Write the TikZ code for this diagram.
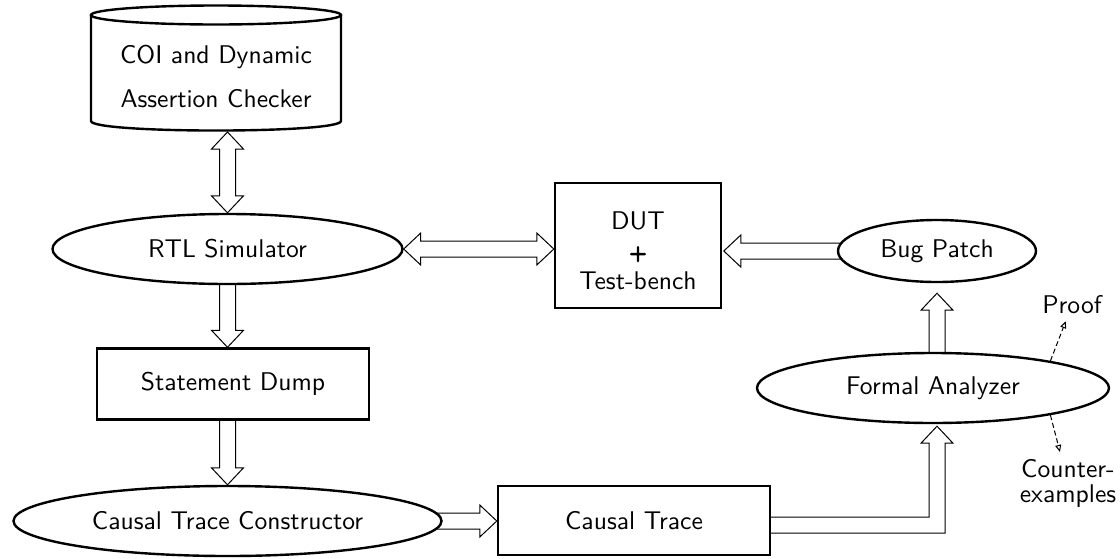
\documentclass[tikz,border=0pt]{standalone}
\usetikzlibrary{calc,shapes.geometric,arrows.meta,backgrounds}
\DeclareFontFamily{TU}{lmssten}{}
\DeclareFontShape{TU}{lmssten}{m}{n}{<-> "[lmsans10-regular]:+tlig;"}{}
\DeclareFontShape{TU}{lmssten}{bx}{n}{<-> "[lmsans10-bold]:+tlig;embolden=3"}{}
\DeclareFontShape{TU}{lmssten}{b}{n}{<-> ssub * lmssten/bx/n}{}
\renewcommand\sfdefault{lmssten}
\tikzset{
  every node/.style={font=\fontsize{12.8}{15}\selectfont\sffamily},
  shapebox/.style={draw, line width=1.2pt, fill=white, rectangle, inner sep=0pt},
  shapeell/.style={draw, line width=1.2pt, fill=white, ellipse, inner sep=0pt},
  fatline/.style={draw, line width=0.5pt, fill=white, line join=miter},
  dasharrow/.style={line width=0.5pt, dash pattern=on 2.5pt off 1.5pt,
    -{Triangle[open, length=3.5pt, width=3pt]}},
}
\newcommand\fatone[2]{%
  \coordinate (tA) at #1; \coordinate (tB) at #2;
  \coordinate (tC) at ($(tB)!8.5pt!(tA)$);
  \draw[fatline] ($(tA)!4pt!90:(tB)$) -- ($(tC)!4pt!-90:(tA)$) -- ($(tC)!8pt!-90:(tA)$)
    -- (tB) -- ($(tC)!8pt!90:(tA)$) -- ($(tC)!4pt!90:(tA)$) -- ($(tA)!4pt!-90:(tB)$);}
\newcommand\fattwo[2]{%
  \coordinate (tA) at #1; \coordinate (tB) at #2;
  \coordinate (tC) at ($(tB)!8.5pt!(tA)$);
  \coordinate (tD) at ($(tA)!8.5pt!(tB)$);
  \draw[fatline] (tA) -- ($(tD)!8pt!90:(tB)$) -- ($(tD)!4pt!90:(tB)$)
    -- ($(tC)!4pt!-90:(tA)$) -- ($(tC)!8pt!-90:(tA)$) -- (tB)
    -- ($(tC)!8pt!90:(tA)$) -- ($(tC)!4pt!90:(tA)$)
    -- ($(tD)!4pt!-90:(tB)$) -- ($(tD)!8pt!-90:(tB)$) -- cycle;}
\begin{document}
\begin{tikzpicture}[x=0.5pt,y=-0.5pt]
\useasboundingbox (0,0) rectangle (1120,558);

% COI cylinder
\draw[line width=1.2pt] (216,15) ellipse [x radius=62.5pt, y radius=4.75pt];
\draw[line width=1.2pt] (91,15) -- (91,121) .. controls (91,133.7) and (341,133.7) .. (341,121) -- (341,15);
\node[align=center, font=\fontsize{12.8}{22}\selectfont\sffamily] (coi) at (216,76) {COI and Dynamic\\Assertion Checker};
\coordinate (coibot) at (227.5,130);

\node[shapeell, minimum width=175pt, minimum height=35pt] (rtl) at (227.5,249) {RTL Simulator};
\node[shapebox, minimum width=83pt, minimum height=62.5pt, align=center] (dut) at (638,245.5) {\rule{0pt}{14pt}DUT\\{\fontsize{10.5}{15}\selectfont\bfseries +}\\Test-bench};
\node[shapeell, minimum width=99pt, minimum height=31pt] (bp) at (937,251) {Bug Patch};
\node[shapebox, minimum width=136pt, minimum height=35.5pt] (sd) at (233,384) {Statement Dump};
\node[shapeell, minimum width=176pt, minimum height=35pt] (fa) at (933,388) {Formal Analyzer};
\node[shapeell, minimum width=214pt, minimum height=35pt] (ctc) at (227.5,521) {Causal Trace Constructor};
\node[shapebox, minimum width=136pt, minimum height=34.5pt] (ct) at (634,520.5) {Causal Trace};

\node (proof) at (1072,305) {Proof};
\node[align=center, font=\fontsize{12.8}{12.5}\selectfont\sffamily] (cex) at (1068,483) {Counter-\\examples};

\draw[dasharrow] (fa.13) -- (proof);
\draw[dasharrow] (fa.-13) -- (cex);

\begin{pgfonlayer}{background}
  \fattwo{($(coibot)+(0,-1pt)$)}{(coibot |- rtl.north)}
  \fattwo{(rtl.east)}{(rtl.east -| dut.west)}
  \fatone{($(bp.west)+(3pt,0)$)}{($(bp.west -| dut.east)+(0.8pt,0)$)}
  \fatone{($(rtl.south)+(0,3pt)$)}{(rtl.south |- sd.north)}
  \fatone{($(sd.south -| ctc.north)+(0,3pt)$)}{(ctc.north)}
  \fatone{($(ctc.east)+(-3pt,0)$)}{(ctc.east -| ct.west)}
  \fatone{($(fa.north -| bp.south)+(0,-3pt)$)}{($(bp.south)+(0,-5pt)$)}
  \draw[fatline] let \p1=($(ct.east)+(0,-2.25pt)$), \p2=(bp.south), \p3=(fa.south) in
    (\x1-3pt,\y1+4pt) -- (\x2-4pt,\y1+4pt) -- (\x2-4pt,\y3-9.5pt) -- (\x2-8pt,\y3-9.5pt)
    -- (\x2,\y3-1pt) -- (\x2+8pt,\y3-9.5pt) -- (\x2+4pt,\y3-9.5pt) -- (\x2+4pt,\y1-4pt)
    -- (\x1-3pt,\y1-4pt);
\end{pgfonlayer}
\end{tikzpicture}
\end{document}
